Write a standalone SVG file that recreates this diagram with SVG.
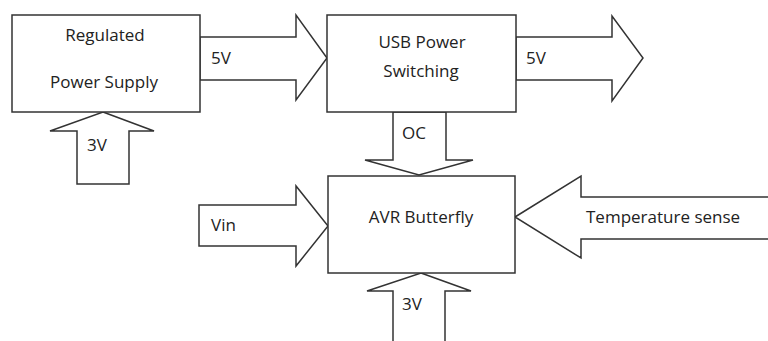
<svg xmlns="http://www.w3.org/2000/svg" width="768" height="341" viewBox="0 0 768 341">
<style>
.box{fill:#fff;stroke:#333;stroke-width:1.5}
.arr{fill:#fff;stroke:#333;stroke-width:1.5;stroke-linejoin:miter}
text{font-family:"Open Sans","Liberation Sans",sans-serif;font-size:17px;fill:#222}
.c{text-anchor:middle}
</style>
<rect width="768" height="341" fill="#fff"/>
<g id="connectors">
<polygon class="arr" points="200,37 296,37 296,15 327,58 296,100 296,80 200,80"/>
<text x="211" y="64">5V</text>
<polygon class="arr" points="516,37 612,37 612,16 643,58 612,101 612,80 516,80"/>
<text x="526" y="64">5V</text>
<polygon class="arr" points="103,112 154,131 129,131 129,184 77,184 77,131 50,131"/>
<text x="87" y="151">3V</text>
<polygon class="arr" points="393,112 446,112 446,160 473,160 419,175 365,160 393,160"/>
<text x="402" y="139">OC</text>
<polygon class="arr" points="199,205 296,205 296,186 328,226 296,266 296,246 199,246"/>
<text x="211" y="231">Vin</text>
<polygon class="arr" points="421,273 471,291 445,291 445,345 393,345 393,291 367,291"/>
<text x="402" y="310">3V</text>
<polygon class="arr" points="515,217 581,176 581,197 772,197 772,239 581,239 581,258"/>
<text x="586" y="223">Temperature sense</text>
</g>
<g id="power-supply">
<rect class="box" x="12" y="15" width="188" height="97"/>
<text class="c" x="105" y="41">Regulated</text>
<text class="c" x="104" y="88">Power Supply</text>
</g>
<g id="usb-switching">
<rect class="box" x="327" y="15" width="189" height="97"/>
<text class="c" x="422" y="48">USB Power</text>
<text class="c" x="421" y="77">Switching</text>
</g>
<g id="avr-butterfly">
<rect class="box" x="328" y="176" width="187" height="97"/>
<text class="c" x="421" y="223">AVR Butterfly</text>
</g>
</svg>
